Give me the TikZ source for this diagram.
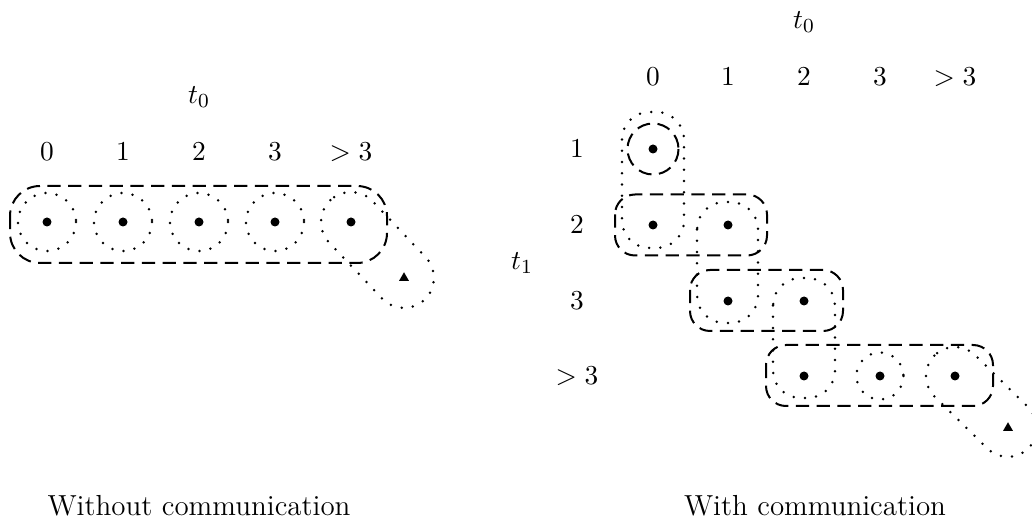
\documentclass[tikz,border=0pt]{standalone}
\usetikzlibrary{shapes.geometric}
\begin{document}
\begin{tikzpicture}[x=0.4pt,y=-0.4pt,
  font=\fontsize{11}{13}\selectfont,
  pt/.style={circle,fill,inner sep=0pt,minimum size=3.6pt},
  tri/.style={regular polygon,regular polygon sides=3,fill,inner sep=0pt,minimum size=4.6pt},
  dsh/.style={line width=0.8pt,dash pattern=on 5.3pt off 3pt},
  dts/.style={line width=1.1pt,line cap=round,dash pattern=on 0pt off 4.5pt},
  captext/.style={anchor=base,inner sep=0pt,font=\fontsize{11.6}{14}\selectfont}
]
\useasboundingbox (0,0) rectangle (1032,518);
% ---------- left panel ----------
\node (Lt0) at (199,97) {$t_0$};
\node (Lc0) at (47,152) {$0$};
\node (Lc1) at (123,152) {$1$};
\node (Lc2) at (199,152) {$2$};
\node (Lc3) at (275,152) {$3$};
\node (Lc4) at (351,152) {$>3$};
\node[pt] (L0) at (47,222) {};
\node[pt] (L1) at (123,222) {};
\node[pt] (L2) at (199,222) {};
\node[pt] (L3) at (275,222) {};
\node[pt] (L4) at (351,222) {};
\node[tri] (LT) at (404,278) {};
\draw[dsh,rounded corners=12pt] (10,186) rectangle (387,263);
\draw[dts] (L0) circle[radius=29];
\draw[dts] (L1) circle[radius=29];
\draw[dts] (L2) circle[radius=29];
\draw[dts] (L3) circle[radius=29];
\begin{scope}[shift={(L4)},rotate=-46.6]
  \draw[dts,rounded corners=12pt] (-30,-30) rectangle (107,30);
\end{scope}
\node[captext] (C1) at (199,515) {Without communication};
% ---------- right panel ----------
\node (Rt0) at (804,22) {$t_0$};
\node (Rc0) at (653,77) {$0$};
\node (Rc1) at (728,77) {$1$};
\node (Rc2) at (804,77) {$2$};
\node (Rc3) at (880,77) {$3$};
\node (Rc4) at (955,77) {$>3$};
\node (Rr1) at (577,149) {$1$};
\node (Rr2) at (577,225) {$2$};
\node (Rr3) at (577,301) {$3$};
\node (Rr4) at (577,376) {$>3$};
\node (Rt1) at (522,263) {$t_1$};
\node[pt] (R01) at (653,149) {};
\node[pt] (R02) at (653,225) {};
\node[pt] (R12) at (728,225) {};
\node[pt] (R13) at (728,301) {};
\node[pt] (R23) at (804,301) {};
\node[pt] (R24) at (804,376) {};
\node[pt] (R34) at (880,376) {};
\node[pt] (R44) at (955,376) {};
\node[tri] (RT) at (1008,428) {};
% dashed partition
\draw[dsh] (R01) circle[radius=25.5];
\draw[dsh,rounded corners=8pt] (615,194.5) rectangle (767,255.5);
\draw[dsh,rounded corners=8pt] (690,270) rectangle (843,331);
\draw[dsh,rounded corners=8pt] (766,345) rectangle (993,406);
% dotted partition
\draw[dts,rounded corners=11pt] (622,112) rectangle (684,248);
\draw[dts,rounded corners=11pt] (697,202) rectangle (758,323);
\draw[dts,rounded corners=11pt] (773,278) rectangle (835,398);
\draw[dts] (R34) circle[radius=23.5];
\begin{scope}[shift={(R44)},rotate=-44.5]
  \draw[dts,rounded corners=11.6pt] (-29,-29) rectangle (103,29);
\end{scope}
\node[captext] (C2) at (815,515) {With communication};
\end{tikzpicture}
\end{document}
